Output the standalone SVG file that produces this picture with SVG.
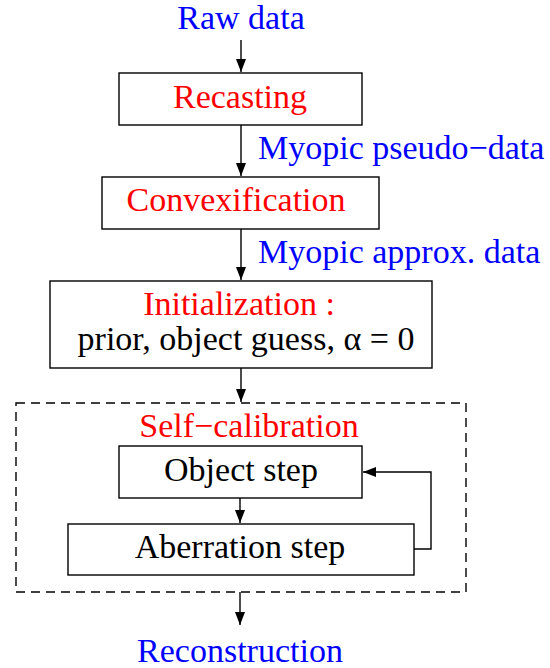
<svg xmlns="http://www.w3.org/2000/svg" width="550" height="668" viewBox="0 0 550 668">
<defs>
<style>
text{font-family:"Liberation Serif","Times New Roman",serif;font-size:34px}
.blue{fill:#0000ff}
.red{fill:#ff0000}
.blk{fill:#000}
.box{fill:#fff;stroke:#000;stroke-width:1.4}
.dash{fill:none;stroke:#000;stroke-width:1.4;stroke-dasharray:9,6}
.conn{fill:none;stroke:#000;stroke-width:1.4;marker-end:url(#ah)}
</style>
<marker id="ah" viewBox="0 0 13 10" refX="13" refY="5" markerWidth="13" markerHeight="10" markerUnits="userSpaceOnUse" orient="auto">
<path d="M0,0 L13,5 L0,10 z" fill="#000"/>
</marker>
</defs>
<g id="connectors">
<line class="conn" x1="241" y1="40" x2="241" y2="72"/>
<line class="conn" x1="241" y1="125" x2="241" y2="176"/>
<line class="conn" x1="241" y1="229" x2="241" y2="280"/>
<line class="conn" x1="241" y1="368" x2="241" y2="402"/>
<line class="conn" x1="240" y1="498" x2="240" y2="523"/>
<polyline class="conn" points="414,549 431,549 431,472 363,472"/>
<line class="conn" x1="240" y1="592" x2="240" y2="625"/>
</g>
<g id="raw-data"><text class="blue" x="241" y="29" text-anchor="middle">Raw data</text></g>
<g id="recasting">
<rect class="box" x="119" y="73" width="243" height="52"/>
<text class="red" x="240" y="108" text-anchor="middle">Recasting</text>
</g>
<g id="label-pseudo"><text class="blue" x="258" y="159">Myopic pseudo−data</text></g>
<g id="convexification">
<rect class="box" x="102" y="177" width="277" height="52"/>
<text class="red" x="236" y="211" text-anchor="middle">Convexification</text>
</g>
<g id="label-approx"><text class="blue" x="258" y="263">Myopic approx. data</text></g>
<g id="initialization">
<rect class="box" x="50" y="281" width="382" height="87"/>
<text class="red" x="239" y="315" text-anchor="middle">Initialization :</text>
<text class="blk" x="246" y="350" text-anchor="middle">prior, object guess, α = 0</text>
</g>
<g id="self-calibration">
<rect class="dash" x="16" y="403" width="450" height="189"/>
<text class="red" x="249" y="437" text-anchor="middle">Self−calibration</text>
</g>
<g id="object-step">
<rect class="box" x="119" y="446" width="243" height="52"/>
<text class="blk" x="241" y="481" text-anchor="middle">Object step</text>
</g>
<g id="aberration-step">
<rect class="box" x="68" y="524" width="346" height="51"/>
<text class="blk" x="240" y="558" text-anchor="middle">Aberration step</text>
</g>
<g id="reconstruction"><text class="blue" x="240" y="662" text-anchor="middle">Reconstruction</text></g>
</svg>
